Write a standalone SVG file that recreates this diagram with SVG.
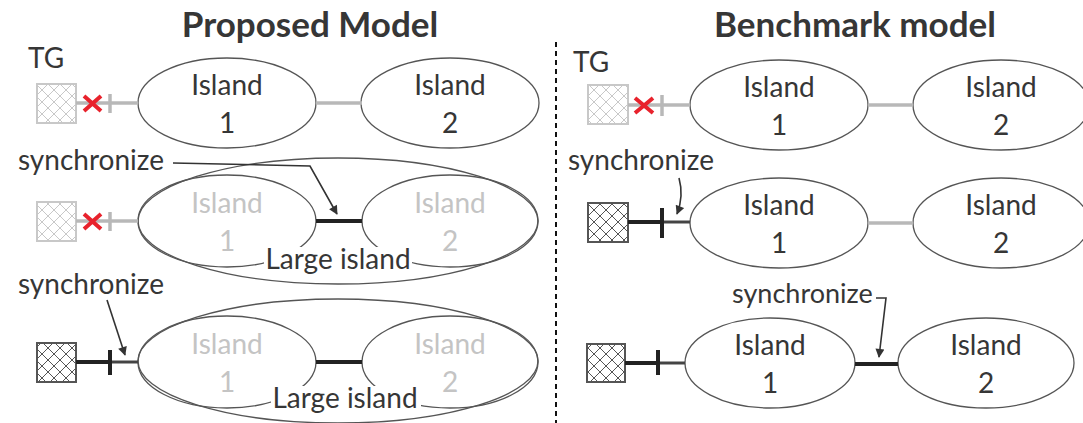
<svg xmlns="http://www.w3.org/2000/svg" width="1083" height="423" viewBox="0 0 1083 423">
<style>
text{font-family:Lato,"Open Sans","Liberation Sans",sans-serif;fill:#363636}
.title{font-size:35px;font-weight:bold;text-anchor:middle}
.lbl{font-size:28px}
.isl{font-size:28px;text-anchor:middle}
.dim{fill:#c4c4c4}
.ell{fill:none;stroke:#555;stroke-width:1.3}
.gline{stroke:#b8b8b8;stroke-width:3.5;fill:none}
.bline{stroke:#222;stroke-width:4;fill:none}
.dline{stroke:#444;stroke-width:3;fill:none}
.rx{stroke:#e8222c;stroke-width:4;fill:none}
.sqL{fill:url(#hatchL);stroke:#c8c8c8;stroke-width:2}
.sqD{fill:url(#hatchD);stroke:#555;stroke-width:2}
.arr{stroke:#333;stroke-width:1.6;fill:none;marker-end:url(#ah)}
</style>
<defs>
<pattern id="hatchL" patternUnits="userSpaceOnUse" width="12" height="12">
<rect width="12" height="12" fill="#fff"/>
<path d="M0,0L12,12M12,0L0,12" stroke="#c8c8c8" stroke-width="1"/>
</pattern>
<pattern id="hatchD" patternUnits="userSpaceOnUse" width="12" height="12">
<rect width="12" height="12" fill="#fff"/>
<path d="M0,0L12,12M12,0L0,12" stroke="#555" stroke-width="1"/>
</pattern>
<marker id="ah" viewBox="0 0 10 10" refX="9" refY="5" markerWidth="11" markerHeight="9" markerUnits="userSpaceOnUse" orient="auto">
<path d="M0,0L10,5L0,10z" fill="#333"/>
</marker>
</defs>
<rect width="1083" height="423" fill="#fff"/>

<g id="titles">
<text class="title" x="310" y="37">Proposed Model</text>
<text class="title" x="855" y="37">Benchmark model</text>
</g>
<line id="divider" x1="556" y1="42" x2="556" y2="423" stroke="#111" stroke-width="2" stroke-dasharray="5,4"/>

<!-- ===== Left panel ===== -->
<g id="L-tg-label"><text class="lbl" x="28" y="68">TG</text></g>

<!-- row 1 -->
<g id="L1-tg"><rect class="sqL" x="37" y="84" width="39" height="39"/></g>
<g id="L1-island1">
<ellipse class="ell" cx="227" cy="103" rx="89" ry="45"/>
<text class="isl" x="227" y="95">Island</text><text class="isl" x="227" y="133">1</text>
</g>
<g id="L1-island2">
<ellipse class="ell" cx="450" cy="103" rx="89" ry="45"/>
<text class="isl" x="450" y="95">Island</text><text class="isl" x="450" y="133">2</text>
</g>

<!-- row 2 -->
<g id="L2-tg"><rect class="sqL" x="37" y="202" width="39" height="39"/></g>
<g id="L2-large">
<ellipse class="ell" cx="338" cy="221" rx="200" ry="63"/>
</g>
<g id="L2-island1">
<ellipse class="ell" cx="227" cy="221" rx="89" ry="46"/>
<text class="isl dim" x="227" y="213">Island</text><text class="isl dim" x="227" y="251">1</text>
</g>
<g id="L2-island2">
<ellipse class="ell" cx="450" cy="221" rx="88" ry="46"/>
<text class="isl dim" x="450" y="213">Island</text><text class="isl dim" x="450" y="251">2</text>
</g>
<g id="L2-large-label">
<rect x="264" y="247" width="148" height="27" fill="#fff"/>
<text class="isl" x="338" y="269">Large island</text>
</g>
<g id="L2-sync-label"><text class="lbl" x="18" y="170">synchronize</text></g>

<!-- row 3 -->
<g id="L3-tg"><rect class="sqD" x="37" y="343" width="39" height="39"/></g>
<g id="L3-large">
<ellipse class="ell" cx="338" cy="361" rx="200" ry="62"/>
</g>
<g id="L3-island1">
<ellipse class="ell" cx="227" cy="362" rx="89" ry="46"/>
<text class="isl dim" x="227" y="354">Island</text><text class="isl dim" x="227" y="392">1</text>
</g>
<g id="L3-island2">
<ellipse class="ell" cx="450" cy="362" rx="88" ry="46"/>
<text class="isl dim" x="450" y="354">Island</text><text class="isl dim" x="450" y="392">2</text>
</g>
<g id="L3-large-label">
<rect x="271" y="386" width="150" height="27" fill="#fff"/>
<text class="isl" x="345" y="408">Large island</text>
</g>
<g id="L3-sync-label"><text class="lbl" x="18" y="294">synchronize</text></g>

<!-- ===== Right panel ===== -->
<g id="R-tg-label"><text class="lbl" x="573" y="72">TG</text></g>

<!-- row 1 -->
<g id="R1-tg"><rect class="sqL" x="588" y="85" width="40" height="39"/></g>
<g id="R1-island1">
<ellipse class="ell" cx="779" cy="105" rx="89" ry="45"/>
<text class="isl" x="779" y="97">Island</text><text class="isl" x="779" y="135">1</text>
</g>
<g id="R1-island2">
<ellipse class="ell" cx="1001" cy="105" rx="88" ry="45"/>
<text class="isl" x="1001" y="97">Island</text><text class="isl" x="1001" y="135">2</text>
</g>

<!-- row 2 -->
<g id="R2-sync-label"><text class="lbl" x="568" y="170">synchronize</text></g>
<g id="R2-tg"><rect class="sqD" x="588" y="203" width="40" height="39"/></g>
<g id="R2-island1">
<ellipse class="ell" cx="779" cy="223" rx="89" ry="45"/>
<text class="isl" x="779" y="215">Island</text><text class="isl" x="779" y="253">1</text>
</g>
<g id="R2-island2">
<ellipse class="ell" cx="1001" cy="223" rx="88" ry="45"/>
<text class="isl" x="1001" y="215">Island</text><text class="isl" x="1001" y="253">2</text>
</g>

<!-- row 3 -->
<g id="R3-sync-label"><text class="lbl" x="732" y="303" style="font-size:27px">synchronize</text></g>
<g id="R3-tg"><rect class="sqD" x="587" y="344" width="38" height="38"/></g>
<g id="R3-island1">
<ellipse class="ell" cx="770" cy="363" rx="85" ry="45"/>
<text class="isl" x="770" y="355">Island</text><text class="isl" x="770" y="393">1</text>
</g>
<g id="R3-island2">
<ellipse class="ell" cx="986" cy="363" rx="88" ry="45"/>
<text class="isl" x="986" y="355">Island</text><text class="isl" x="986" y="393">2</text>
</g>

<!-- ===== Connectors ===== -->
<g id="connectors">
<!-- left row 1 -->
<line class="gline" x1="76" y1="103" x2="138" y2="103"/>
<line class="gline" x1="110" y1="94" x2="110" y2="113"/>
<path class="rx" d="M84,96L101,111M84,111L101,96"/>
<line class="gline" x1="316" y1="103" x2="362" y2="103"/>
<!-- left row 2 -->
<line class="gline" x1="76" y1="221" x2="138" y2="221"/>
<line class="gline" x1="110" y1="212" x2="110" y2="231"/>
<path class="rx" d="M84,214L101,229M84,229L101,214"/>
<line class="bline" x1="316" y1="221" x2="362" y2="221"/>
<path class="arr" d="M173,163L310,166L337,214"/>
<!-- left row 3 -->
<line class="bline" x1="76" y1="362" x2="110" y2="362"/>
<line class="dline" x1="110" y1="362" x2="138" y2="362"/>
<line class="bline" x1="110" y1="350" x2="110" y2="375"/>
<line class="bline" x1="316" y1="362" x2="362" y2="362"/>
<path class="arr" d="M107,300L125,355"/>
<!-- right row 1 -->
<line class="gline" x1="628" y1="105" x2="690" y2="105"/>
<line class="gline" x1="662" y1="95" x2="662" y2="116"/>
<path class="rx" d="M635,98L653,113M635,113L653,98"/>
<line class="gline" x1="868" y1="105" x2="913" y2="105"/>
<!-- right row 2 -->
<line class="bline" x1="628" y1="222" x2="662" y2="222"/>
<line class="dline" x1="662" y1="222" x2="690" y2="222"/>
<line class="bline" x1="662" y1="208" x2="662" y2="238"/>
<line class="gline" x1="868" y1="223" x2="913" y2="223"/>
<path class="arr" d="M679,178Q684,196 677,214"/>
<!-- right row 3 -->
<line class="bline" x1="625" y1="363" x2="658" y2="363"/>
<line class="dline" x1="658" y1="363" x2="685" y2="363"/>
<line class="bline" x1="658" y1="350" x2="658" y2="375"/>
<line class="bline" x1="855" y1="364" x2="898" y2="364"/>
<path class="arr" d="M876,298L886,298L879,357"/>
</g>
</svg>
